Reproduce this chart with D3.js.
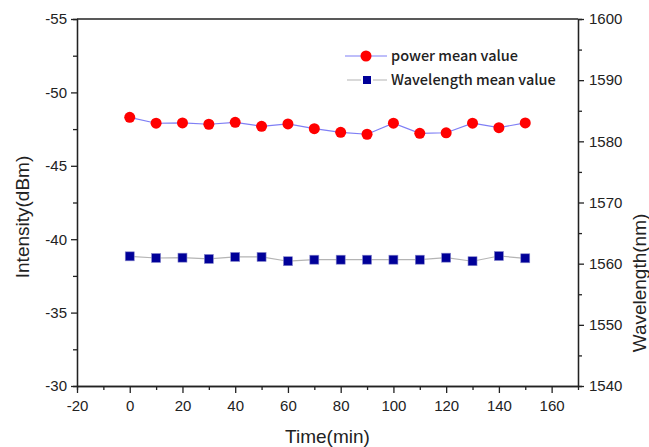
<!DOCTYPE html>
<html>
<head>
<meta charset="utf-8">
<script src="https://cdn.jsdelivr.net/npm/d3@7"></script>
<style>
  body { margin: 0; background: #fff; }
  text { font-family: "Liberation Sans", Arial, sans-serif; fill: #222; }
</style>
</head>
<body>
<div id="vis"></div>
<script>
// Daten
var times = [0, 10, 20, 30, 40, 50, 60, 70, 80, 90, 100, 110, 120, 130, 140, 150];
var powerValues = [-48.3, -47.9, -47.92, -47.83, -47.96, -47.69, -47.85, -47.53, -47.28, -47.15, -47.9, -47.21, -47.25, -47.9, -47.6, -47.92];
var wavelengthValues = [1561.2, 1560.93, 1560.98, 1560.77, 1561.1, 1561.1, 1560.4, 1560.65, 1560.65, 1560.65, 1560.65, 1560.65, 1560.98, 1560.4, 1561.25, 1560.88];
var xTicks = [-20, 0, 20, 40, 60, 80, 100, 120, 140, 160];
var leftTicks = [-55, -50, -45, -40, -35, -30];
var rightTicks = [1540, 1550, 1560, 1570, 1580, 1590, 1600];

var width = 649, height = 447;
var margin = {left: 77, right: 71, top: 19, bottom: 61};
var x0 = margin.left, x1 = width - margin.right;
var y0 = margin.top, y1 = height - margin.bottom;

var svg = d3.select('#vis').append('svg')
    .attr('width', width)
    .attr('height', height);

// Skalen
var x = d3.scaleLinear().domain([-20, 170]).range([x0, x1]);
var yLeft = d3.scaleLinear().domain([-55, -30]).range([y0, y1]);
var yRight = d3.scaleLinear().domain([1540, 1600]).range([y1, y0]);

// einfache Beschriftung mit normalem Minus, ohne Tausender-Komma
var plain = function (d) { return String(d); };

// minor ticks zuerst
function minorAxis(axis, ticks) {
    return axis.tickValues(ticks).tickSize(4).tickFormat('');
}

var xMinor = d3.range(-10, 170, 20);
var leftMinor = d3.range(-52.5, -30, 5);
var rightMinor = d3.range(1545, 1600, 10);

svg.append('g').attr('transform', 'translate(0,' + y1 + ')')
    .call(minorAxis(d3.axisBottom(x), xMinor));
svg.append('g').attr('transform', 'translate(' + x0 + ',0)')
    .call(minorAxis(d3.axisLeft(yLeft), leftMinor));
svg.append('g').attr('transform', 'translate(' + x1 + ',0)')
    .call(minorAxis(d3.axisRight(yRight), rightMinor));

// Hauptachsen
var gx = svg.append('g').attr('transform', 'translate(0,' + y1 + ')')
    .call(d3.axisBottom(x).tickValues(xTicks).tickFormat(plain).tickSize(7).tickPadding(4).tickSizeOuter(0));
var gl = svg.append('g').attr('transform', 'translate(' + x0 + ',0)')
    .call(d3.axisLeft(yLeft).tickValues(leftTicks).tickFormat(plain).tickSize(6).tickPadding(4).tickSizeOuter(0));
var gr = svg.append('g').attr('transform', 'translate(' + x1 + ',0)')
    .call(d3.axisRight(yRight).tickValues(rightTicks).tickFormat(plain).tickSize(6).tickPadding(5).tickSizeOuter(0));

svg.selectAll('.domain, .tick line').attr('stroke', '#222').attr('stroke-width', 1.3);
svg.selectAll('.tick text').style('font-size', '15px').attr('fill', '#222');
gx.selectAll('.tick text').attr('dy', '0.9em');

// oberer Rahmen
svg.append('line')
    .attr('x1', x0).attr('x2', x1)
    .attr('y1', y0).attr('y2', y0)
    .attr('stroke', '#222').attr('stroke-width', 1.3);

// Achsentitel
svg.append('text')
    .attr('transform', 'translate(29,217) rotate(-90)')
    .attr('text-anchor', 'middle')
    .style('font-size', '19px')
    .text('Intensity(dBm)');
svg.append('text')
    .attr('transform', 'translate(646,283) rotate(-90)')
    .attr('text-anchor', 'middle')
    .style('font-size', '19px')
    .text('Wavelength(nm)');
svg.append('text')
    .attr('x', (x0 + x1) / 2).attr('y', 443)
    .attr('text-anchor', 'middle')
    .style('font-size', '19px')
    .text('Time(min)');

// Linien
var powerLine = d3.line()
    .x(function (d, i) { return x(times[i]); })
    .y(function (d) { return yLeft(d); });
var waveLine = d3.line()
    .x(function (d, i) { return x(times[i]); })
    .y(function (d) { return yRight(d); });

svg.append('path').datum(powerValues)
    .attr('d', powerLine)
    .attr('fill', 'none')
    .attr('stroke', '#7f7ff5')
    .attr('stroke-width', 1.2);
svg.append('path').datum(wavelengthValues)
    .attr('d', waveLine)
    .attr('fill', 'none')
    .attr('stroke', '#b4b4b4')
    .attr('stroke-width', 1.2);

svg.selectAll('.pt').data(powerValues).enter().append('circle')
    .attr('cx', function (d, i) { return x(times[i]); })
    .attr('cy', function (d) { return yLeft(d); })
    .attr('r', 5.5)
    .attr('fill', '#ff0000');

var sq = 9;
svg.selectAll('.sq').data(wavelengthValues).enter().append('rect')
    .attr('x', function (d, i) { return x(times[i]) - sq / 2; })
    .attr('y', function (d) { return yRight(d) - sq / 2; })
    .attr('width', sq).attr('height', sq)
    .attr('fill', '#000099')
    .attr('stroke', '#8888cc')
    .attr('stroke-width', 0.6);

// Legende
var legend = svg.append('g');
legend.append('line')
    .attr('x1', 345).attr('x2', 387).attr('y1', 56).attr('y2', 56)
    .attr('stroke', '#7f7ff5').attr('stroke-width', 1.2);
legend.append('circle')
    .attr('cx', 366).attr('cy', 56).attr('r', 5.5)
    .attr('fill', '#ff0000');
legend.append('line')
    .attr('x1', 347).attr('x2', 387).attr('y1', 80).attr('y2', 80)
    .attr('stroke', '#b4b4b4').attr('stroke-width', 1.2);
legend.append('rect')
    .attr('x', 362).attr('y', 75).attr('width', 10).attr('height', 10)
    .attr('fill', '#000099')
    .attr('stroke', '#fff').attr('stroke-width', 2);
legend.append('text')
    .attr('x', 391).attr('y', 61)
    .style('font-family', '"Noto Sans CJK SC", "Noto Sans", sans-serif')
    .style('font-size', '14.5px').style('font-weight', 500)
    .text('power mean value');
legend.append('text')
    .attr('x', 391).attr('y', 85)
    .style('font-family', '"Noto Sans CJK SC", "Noto Sans", sans-serif')
    .style('font-size', '14.5px').style('font-weight', 500)
    .text('Wavelength mean value');
</script>
</body>
</html>
